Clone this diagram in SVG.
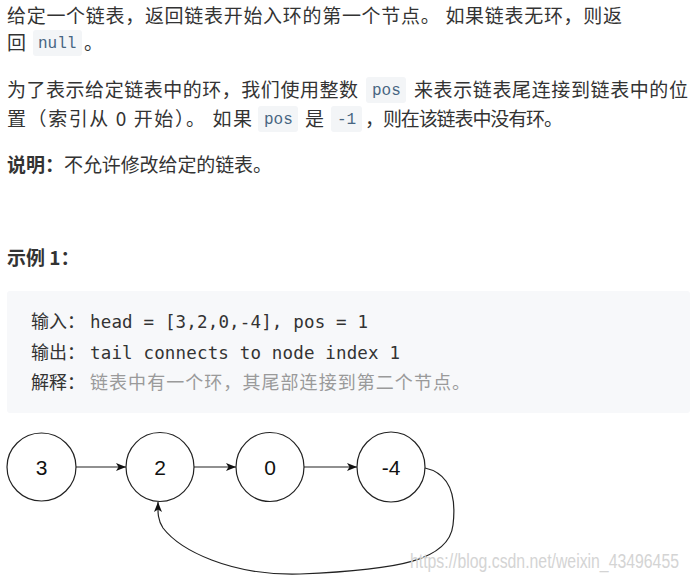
<svg xmlns="http://www.w3.org/2000/svg" width="690" height="581" viewBox="0 0 690 581">
<defs>
<style>
.t{font-family:"Noto Sans CJK SC","Liberation Sans",sans-serif;font-size:19px;fill:#333}
.b{font-weight:bold}
.code{font-family:"Liberation Mono","DejaVu Sans Mono",monospace;font-size:16px;fill:#476582}
.cbg{fill:#f3f5f7}
.bt{font-family:"Noto Sans CJK SC",sans-serif;font-size:18px;fill:#333}
.bm{font-family:"DejaVu Sans Mono","Liberation Mono",monospace;font-size:17.5px;fill:#333}
.gray{font-family:"Noto Sans CJK SC",serif;font-size:18px;fill:#9a9a9a}
.node{fill:#fff;stroke:#222;stroke-width:1.2}
.nt{font-family:"Liberation Sans",Arial,sans-serif;font-size:21px;fill:#111;text-anchor:middle}
.edge{fill:none;stroke:#222;stroke-width:1.2}
</style>
<marker id="arr" markerUnits="userSpaceOnUse" markerWidth="10" markerHeight="8" refX="10" refY="4" orient="auto">
<path d="M0,0 L10,4 L0,8 L2.5,4 z" fill="#111"/>
</marker>
</defs>
<rect width="690" height="581" fill="#fff"/>

<g id="text">
<text class="t" x="7" y="23" textLength="615" lengthAdjust="spacing">给定一个链表，返回链表开始入环的第一个节点。 如果链表无环，则返</text>
<text class="t" x="7" y="50">回</text>
<rect class="cbg" x="33" y="30" width="49" height="26" rx="3"/>
<text class="code" x="38" y="48">null</text>
<text class="t" x="84" y="50">。</text>

<text class="t" x="7" y="97" textLength="351" lengthAdjust="spacing">为了表示给定链表中的环，我们使用整数</text>
<rect class="cbg" x="366" y="77" width="40" height="26" rx="3"/>
<text class="code" x="372" y="95">pos</text>
<text class="t" x="414" y="97" textLength="274" lengthAdjust="spacing">来表示链表尾连接到链表中的位</text>

<text class="t" x="7" y="126" textLength="245" lengthAdjust="spacing">置（索引从 0 开始）。 如果</text>
<rect class="cbg" x="258" y="106" width="40" height="26" rx="3"/>
<text class="code" x="264" y="124">pos</text>
<text class="t" x="305" y="126">是</text>
<rect class="cbg" x="331" y="106" width="31" height="26" rx="3"/>
<text class="code" x="337" y="124">-1</text>
<text class="t" x="365" y="126" textLength="198" lengthAdjust="spacing">，则在该链表中没有环。</text>

<text class="t b" x="7" y="172">说明：</text>
<text class="t" x="64" y="172" textLength="208" lengthAdjust="spacing">不允许修改给定的链表。</text>

<text class="t b" x="7" y="265">示例 1：</text>

<rect x="7" y="291" width="683" height="122" rx="3" fill="#f7f8fa"/>
<text class="bt" x="31" y="328">输入：</text>
<text class="bm" x="90" y="328" textLength="278" lengthAdjust="spacing">head = [3,2,0,-4], pos = 1</text>
<text class="bt" x="31" y="359">输出：</text>
<text class="bm" x="90" y="359" textLength="310" lengthAdjust="spacing">tail connects to node index 1</text>
<text class="bt" x="31" y="389">解释：</text>
<text class="gray" x="90" y="389" textLength="380" lengthAdjust="spacing">链表中有一个环，其尾部连接到第二个节点。</text>
</g>

<g id="node-3">
<ellipse class="node" cx="41.5" cy="467" rx="34.5" ry="34"/>
<text class="nt" x="41.5" y="474.5">3</text>
</g>
<g id="node-2">
<ellipse class="node" cx="160" cy="467" rx="34" ry="34.5"/>
<text class="nt" x="160" y="474.5">2</text>
</g>
<g id="node-0">
<ellipse class="node" cx="270" cy="467" rx="34" ry="34.5"/>
<text class="nt" x="270" y="474.5">0</text>
</g>
<g id="node-m4">
<ellipse class="node" cx="391" cy="467" rx="34" ry="35"/>
<text class="nt" x="391" y="474.5">-4</text>
</g>

<g id="connectors">
<line class="edge" x1="76" y1="467" x2="126" y2="467" marker-end="url(#arr)"/>
<line class="edge" x1="194" y1="467" x2="236" y2="467" marker-end="url(#arr)"/>
<line class="edge" x1="304" y1="467" x2="357" y2="467" marker-end="url(#arr)"/>
<path class="edge" d="M 425 468 C 452 474, 456 500, 453 525 C 449 560, 400 570, 300 574 C 230 576, 180 550, 163 528 C 157 519, 158 510, 158 502" marker-end="url(#arr)"/>
</g>

<text x="410" y="568" font-family="Liberation Sans,Arial,sans-serif" font-size="20" fill="#d4d4d4" textLength="269" lengthAdjust="spacingAndGlyphs">https://blog.csdn.net/weixin_43496455</text>
</svg>
